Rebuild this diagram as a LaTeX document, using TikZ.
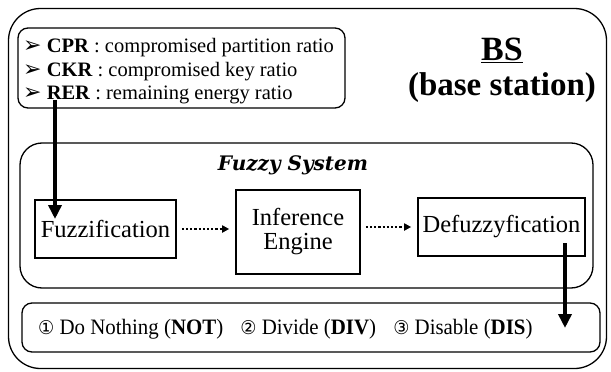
\documentclass[tikz,border=0pt]{standalone}
\usepackage{fontspec}
\setmainfont{Liberation Serif}
\newfontfamily\djsans{DejaVu Sans}
\newfontfamily\djserif{DejaVu Serif}
\usetikzlibrary{arrows.meta}
\newcommand{\bul}{{\djsans\fontsize{22}{22}\selectfont ➢}}
\newcommand{\circd}[1]{{\djsans\fontsize{19}{19}\selectfont #1}}
\tikzset{
  frame/.style={draw, line width=1.3pt, rounded corners=#1},
  blockbox/.style={draw, line width=1.6pt, inner sep=0pt, font=\fontsize{24.5}{26}\selectfont, align=center},
  thickarrow/.style={line width=3.5pt, -{Triangle[length=14pt,width=13pt]}},
  dotarrow/.style={line width=2.2pt, dotted, -{Triangle[length=7pt,width=7pt]}},
}
\begin{document}
\begin{tikzpicture}[x=1pt,y=-1pt]
\useasboundingbox (0,0) rectangle (611,372);
% outer base station frame
\node[frame=32pt, minimum width=598pt, minimum height=360pt, inner sep=0pt] (bs) at (307.5,188.5) {};
% inputs box
\node[frame=10pt, minimum width=327pt, minimum height=80pt, inner sep=0pt] (inp) at (181.5,68) {};
\node[anchor=west, align=left, inner sep=0pt, font=\fontsize{20.5}{23.5}\selectfont] (inptext) at (23,71.5)
  {\bul\ \textbf{CPR} : compromised partition ratio\\
   \bul\ \textbf{CKR} : compromised key ratio\\
   \bul\ \textbf{RER} : remaining energy ratio};
% title
\node[font=\bfseries\fontsize{34}{36}\selectfont, inner sep=0pt] (bst) at (502,50) {\underline{BS}};
\node[font=\bfseries\fontsize{33}{36}\selectfont, inner sep=0pt] (bsn) at (502,88) {(base station)};
% fuzzy system
\node[frame=22pt, minimum width=573pt, minimum height=145pt, inner sep=0pt] (fs) at (306.5,215.5) {};
\node[font=\djserif\bfseries\itshape\fontsize{20}{22}\selectfont, inner sep=0pt] (fst) at (293,165) {Fuzzy System};
\node[blockbox, minimum width=141pt, minimum height=58pt] (fz) at (105.5,229) {Fuzzification};
\node[blockbox, minimum width=124pt, minimum height=84pt] (inf) at (298,232) {Inference\\[-2pt]Engine};
\node[blockbox, minimum width=167pt, minimum height=58pt] (de) at (501.5,227) {Defuzzyfication};
% outputs
\node[frame=10pt, minimum width=578pt, minimum height=49pt, inner sep=0pt] (out) at (311,327.5) {};
\node[anchor=west, inner sep=0pt, font=\fontsize{22}{24}\selectfont] (outtext) at (38,329)
  {\scalebox{0.95}[1]{\circd{①} Do Nothing (\textbf{NOT})\hspace{18pt}\circd{②} Divide (\textbf{DIV})\hspace{18pt}\circd{③} Disable (\textbf{DIS})}};
% connectors
\coordinate (a1s) at (55,100);
\coordinate (a1e) at (55,219);
\draw[thickarrow] (a1s) -- (a1e);
\draw[dotarrow, shorten <=5pt, shorten >=6pt] (fz.east) -- (fz.east -| inf.west);
\draw[dotarrow, shorten <=5pt, shorten >=6pt] (de.west -| inf.east) -- (de.west);
\coordinate (a2s) at (565,243);
\coordinate (a2e) at (565,328);
\draw[thickarrow] (a2s) -- (a2e);
\end{tikzpicture}
\end{document}
